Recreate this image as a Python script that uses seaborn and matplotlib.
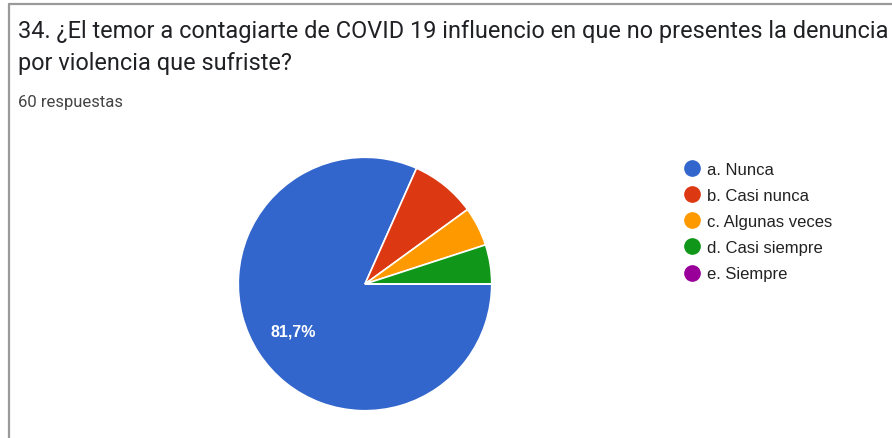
import matplotlib
matplotlib.use("Agg")
import matplotlib.pyplot as plt
from matplotlib.lines import Line2D
import seaborn as sns

# Datos (60 respuestas)
categorias = ["a. Nunca", "b. Casi nunca", "c. Algunas veces", "d. Casi siempre", "e. Siempre"]
respuestas = [49, 5, 3, 3, 0]
colores = ["#3366cc", "#dc3912", "#ff9900", "#109618", "#990099"]

titulo = "34. ¿El temor a contagiarte de COVID 19 influencio en que no presentes la denuncia\npor violencia que sufriste?"
subtitulo = "60 respuestas"

sns.set_theme(style="white")
plt.rcParams['font.family'] = ['Roboto', 'DejaVu Sans']

W, H = 892, 439
fig = plt.figure(figsize=(W / 100, H / 100), dpi=100)
fig.patch.set_facecolor("white")

# Marco gris (borde superior e izquierdo de la tarjeta)
fig.add_artist(Line2D([9 / W, 9 / W], [0, 1 - 5 / H], color="#9a9a9a", lw=1.6))
fig.add_artist(Line2D([9 / W, 1], [1 - 5 / H, 1 - 5 / H], color="#9a9a9a", lw=1.6))

fig.text(18 / W, 1 - 20 / H, titulo, fontsize=16.9, color="#202124",
         va="top", ha="left", linespacing=1.5)
fig.text(18 / W, 1 - 102 / H, subtitulo, fontsize=12, color="#444444",
         va="center", ha="left")

# Torta
cx, cy, r = 365, 285, 128
ax = fig.add_axes([(cx - r) / W, (H - cy - r) / H, 2 * r / W, 2 * r / H])
valores = [v for v in respuestas]


def etiqueta(pct):
    return f"{pct:.1f}%".replace(".", ",") if pct > 10 else ""


wedges, textos, autotextos = ax.pie(
    valores, colors=colores, startangle=0, counterclock=False,
    autopct=etiqueta, pctdistance=0.68,
    wedgeprops=dict(edgecolor="white", linewidth=1.2),
    textprops=dict(color="white", fontsize=11.5, fontweight="bold",
                   family=["Liberation Sans", "DejaVu Sans"]))
ax.set_xlim(-1.01, 1.01)
ax.set_ylim(-1.01, 1.01)
ax.set_aspect("equal")
ax.axis("off")

# Leyenda con círculos
handles = [Line2D([0], [0], marker="o", linestyle="", markersize=11,
                  markerfacecolor=c, markeredgecolor=c) for c in colores]
fig.legend(handles, categorias, loc="upper left",
           bbox_to_anchor=(670 / W, 1 - 155 / H), frameon=False,
           prop=dict(family=["Liberation Sans", "DejaVu Sans"], size=12),
           labelcolor="#222222", handletextpad=0.1, labelspacing=0.66,
           borderpad=0, handlelength=1.6)

fig.savefig("out.png", dpi=100, facecolor="white")
